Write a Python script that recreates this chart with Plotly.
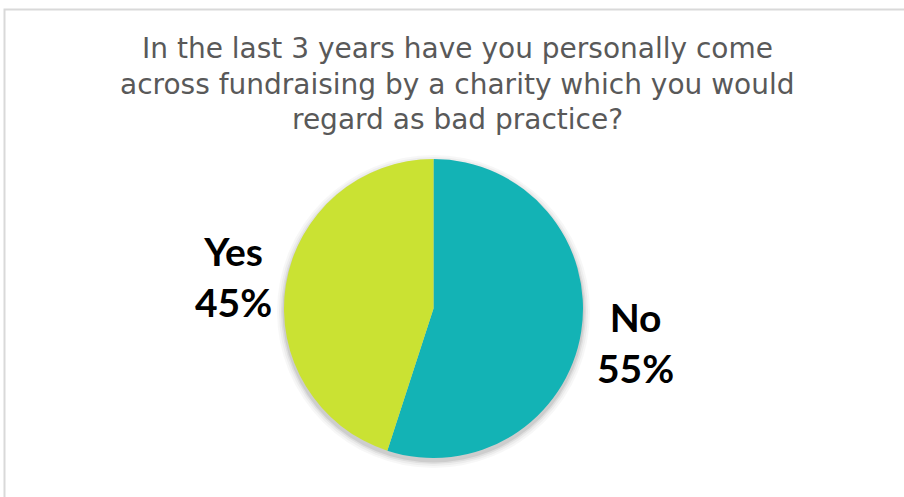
import plotly.graph_objects as go

# Survey answers
labels = ["No", "Yes"]
shares = [55, 45]
colors = ["#13B3B5", "#CAE233"]
title_lines = [
    "In the last 3 years have you personally come",
    "across fundraising by a charity which you would",
    "regard as bad practice?",
]

W, H = 904, 497
cx, cy, r = 433.5, 308.5, 149.5  # pie centre / radius in pixels


def px(x):
    return x / W


def py(y):
    return 1 - y / H


fig = go.Figure(
    go.Pie(
        labels=labels,
        values=shares,
        sort=False,
        direction="clockwise",
        rotation=0,
        marker=dict(colors=colors, line=dict(width=0)),
        textinfo="none",
        hoverinfo="label+percent",
        showlegend=False,
        domain=dict(x=[px(cx - r), px(cx + r)], y=[py(cy + r), py(cy - r)]),
    )
)

shapes = []
# soft drop shadow under the pie
for grow, alpha in [(7, 0.03), (5, 0.04), (3, 0.06), (1.5, 0.08)]:
    rr = r + grow
    oy = 3
    shapes.append(
        dict(
            type="circle", xref="paper", yref="paper",
            x0=px(cx - rr), x1=px(cx + rr),
            y0=py(cy + oy + rr), y1=py(cy + oy - rr),
            fillcolor=f"rgba(0,0,0,{alpha})", line=dict(width=0), layer="below",
        )
    )
# chart frame
shapes.append(
    dict(
        type="rect", xref="paper", yref="paper",
        x0=px(4.5), x1=1.02, y0=-0.02, y1=py(9.5),
        line=dict(color="#D9D9D9", width=2), fillcolor="rgba(0,0,0,0)",
    )
)

annotations = []
# title, one annotation per line for tight line spacing
for i, line in enumerate(title_lines):
    annotations.append(
        dict(
            text=line,
            x=px(457.5), y=py(49 + 35 * i), xref="paper", yref="paper",
            xanchor="center", yanchor="middle",
            showarrow=False, align="center",
            font=dict(family="DejaVu Sans", size=28, color="#595959"),
        )
    )

label_pos = {"Yes": (233, 276), "No": (635, 342)}
for lab, val in zip(labels, shares):
    x, y = label_pos[lab]
    annotations.append(
        dict(
            text=f"<b>{lab}<br>{val}%</b>",
            x=px(x), y=py(y), xref="paper", yref="paper",
            xanchor="center", yanchor="middle",
            showarrow=False, align="center",
            font=dict(family="Lato", size=39, color="#000000"),
        )
    )

fig.update_layout(
    width=W, height=H,
    margin=dict(l=0, r=0, t=0, b=0),
    paper_bgcolor="white", plot_bgcolor="white",
    shapes=shapes, annotations=annotations,
)

fig.write_html("out.html")
